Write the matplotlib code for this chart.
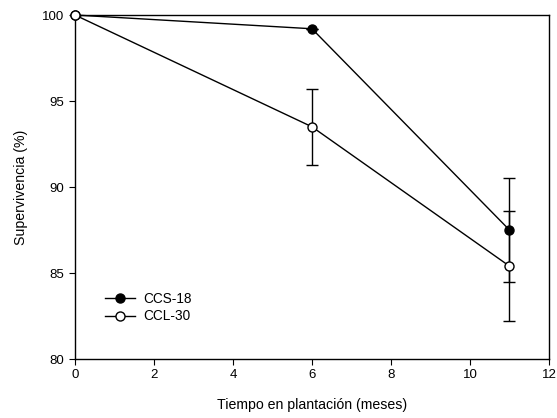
import matplotlib.pyplot as plt
from matplotlib.lines import Line2D

plt.rcParams['font.family'] = ['Liberation Sans', 'DejaVu Sans']

# data
meses = [0, 6, 11]
ccs18 = [100, 99.2, 87.5]
ccs18_err = [0, 0, 3.0]
ccl30 = [100, 93.5, 85.4]
ccl30_err = [0, 2.2, 3.2]

fig = plt.figure(figsize=(5.57, 4.18), dpi=100)
ax = fig.add_axes([0.1346, 0.1411, 0.851, 0.823])

for y, err, fc in [(ccs18, ccs18_err, 'black'), (ccl30, ccl30_err, 'white')]:
    lines = ax.errorbar(meses, y, yerr=err, color='black', lw=1, marker='o',
                        ms=6.5, mfc=fc, mec='black', capsize=4, elinewidth=1,
                        capthick=1, zorder=3)
    lines[0].set_clip_on(False)

ax.set_xlim(0, 12)
ax.set_ylim(80, 100)
ax.set_xticks(range(0, 13, 2))
ax.set_yticks(range(80, 101, 5))
ax.tick_params(direction='out', length=4, width=0.8, labelsize=9.5, top=False, right=False)
for s in ax.spines.values():
    s.set_linewidth(1)

ax.set_xlabel('Tiempo en plantación (meses)', fontsize=10.2, labelpad=12)
ax.set_ylabel('Supervivencia (%)', fontsize=10.2, labelpad=10)

handles = [
    Line2D([], [], color='black', lw=1, marker='o', ms=6.5, mfc='black', mec='black'),
    Line2D([], [], color='black', lw=1, marker='o', ms=6.5, mfc='white', mec='black'),
]
ax.legend(handles, ['CCS-18', 'CCL-30'], loc='lower left', bbox_to_anchor=(0.038, 0.068),
          frameon=False, fontsize=9.8, handlelength=2.2, labelspacing=0.25,
          handletextpad=0.6)

fig.savefig('out.png', dpi=100)
